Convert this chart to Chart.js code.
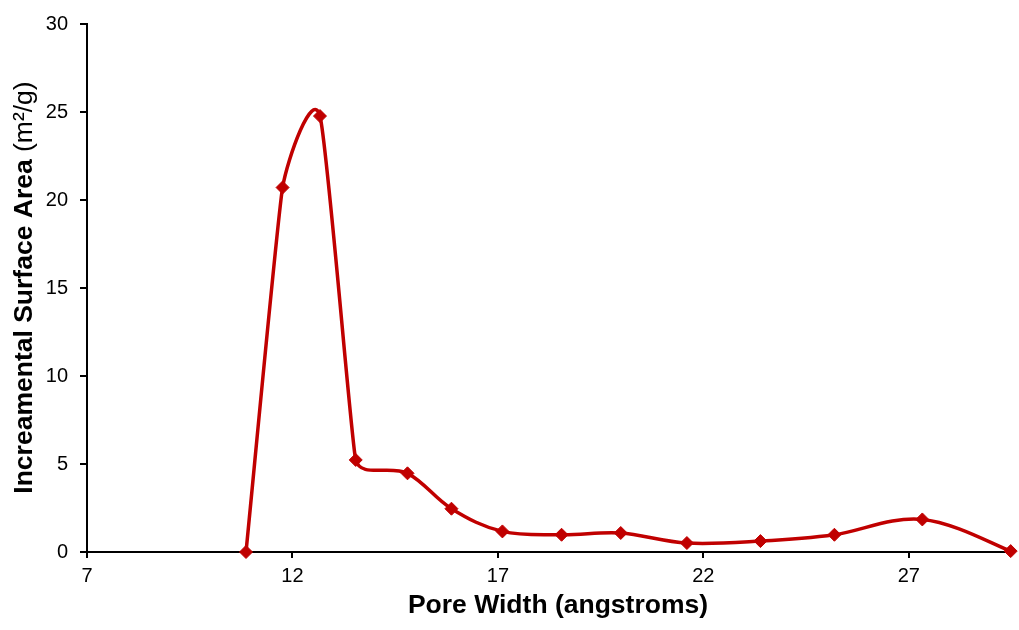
<!DOCTYPE html>
<html>
<head>
<meta charset="utf-8">
<script src="https://cdn.jsdelivr.net/npm/chart.js@4"></script>
<style>
  html, body { margin: 0; padding: 0; background: #ffffff; }
  #wrap { width: 1019px; height: 630px; position: relative; }
</style>
</head>
<body>
<div id="wrap"><canvas id="c" width="1019" height="630"></canvas></div>
<script>
// Data
const poreWidth = [10.87, 11.76, 12.67, 13.54, 14.80, 15.87, 17.11, 18.55, 19.99, 21.60, 23.39, 25.19, 27.33, 29.48];
const surfaceArea = [0.0, 20.71, 24.77, 5.23, 4.47, 2.46, 1.17, 0.98, 1.08, 0.51, 0.62, 0.98, 1.85, 0.05];
const xTickValues = [7, 12, 17, 22, 27];
const yTickValues = [0, 5, 10, 15, 20, 25, 30];

const xTitle = 'Pore Width (angstroms)';
const yTitleBold = 'Increamental Surface Area';
const yTitleNormal = ' (m\u00B2/g)';

const RED = '#C00000';
const FONT = "'Liberation Sans', Arial, sans-serif";
const TITLE_SIZE = 26.5;

// Excel-like smoothing: tangent from neighbours, control length tied to the shorter adjacent segment
const smoothPlugin = {
  id: 'excelSmooth',
  beforeDatasetDraw(chart, args) {
    const meta = chart.getDatasetMeta(args.index);
    const line = meta.dataset;
    if (!line) return;
    line.updateControlPoints(chart.chartArea, meta.iScale.axis);
    const pts = meta.data;
    const n = pts.length;
    const k = 0.36;
    for (let i = 0; i < n; i++) {
      const p = pts[i];
      const prev = pts[Math.max(0, i - 1)];
      const next = pts[Math.min(n - 1, i + 1)];
      let tx = next.x - prev.x, ty = next.y - prev.y;
      const tl = Math.hypot(tx, ty) || 1;
      tx /= tl; ty /= tl;
      const dPrev = Math.hypot(p.x - prev.x, p.y - prev.y);
      const dNext = Math.hypot(next.x - p.x, next.y - p.y);
      let len;
      if (i === 0) len = k * dNext * 0.5;
      else if (i === n - 1) len = k * dPrev * 0.5;
      else len = k * Math.min(dPrev, dNext);
      p.cp1x = p.x - tx * len; p.cp1y = p.y - ty * len;
      p.cp2x = p.x + tx * len; p.cp2y = p.y + ty * len;
    }
  }
};

const titlesPlugin = {
  id: 'titles',
  afterDraw(chart) {
    const ctx = chart.ctx;
    ctx.save();
    ctx.fillStyle = '#000';
    const boldFont = 'bold ' + TITLE_SIZE + 'px ' + FONT;
    const normFont = TITLE_SIZE + 'px ' + FONT;
    // x title
    ctx.font = boldFont;
    ctx.textAlign = 'center';
    ctx.textBaseline = 'alphabetic';
    ctx.fillText(xTitle, 558, 613);
    // y title (bold + normal part)
    ctx.font = boldFont;
    const wb = ctx.measureText(yTitleBold).width;
    ctx.font = normFont;
    const wn = ctx.measureText(yTitleNormal).width;
    const total = wb + wn;
    ctx.translate(31.5, 287.5);
    ctx.rotate(-Math.PI / 2);
    ctx.textAlign = 'left';
    ctx.font = boldFont;
    ctx.fillText(yTitleBold, -total / 2, 0);
    ctx.font = normFont;
    ctx.fillText(yTitleNormal, -total / 2 + wb, 0);
    ctx.restore();
  }
};

new Chart(document.getElementById('c'), {
  type: 'line',
  data: {
    datasets: [{
      data: poreWidth.map((x, i) => ({ x: x, y: surfaceArea[i] })),
      borderColor: RED,
      backgroundColor: RED,
      borderWidth: 3.5,
      pointStyle: 'rectRot',
      pointRadius: 6.5,
      pointHoverRadius: 6.5,
      pointBackgroundColor: RED,
      pointBorderColor: RED,
      pointBorderWidth: 1,
      tension: 0.4,
      fill: false,
      clip: false
    }]
  },
  options: {
    responsive: false,
    animation: false,
    devicePixelRatio: 1,
    layout: { padding: { top: 22, right: 7, left: 0, bottom: 0 } },
    plugins: {
      legend: { display: false },
      tooltip: { enabled: false }
    },
    scales: {
      x: {
        type: 'linear',
        min: 7,
        max: 29.5,
        afterBuildTicks(scale) { scale.ticks = xTickValues.map(v => ({ value: v })); },
        afterFit(scale) { scale.height = 78; },
        border: { display: true, color: '#000', width: 2 },
        grid: { display: true, drawOnChartArea: false, drawTicks: true, tickLength: 6, color: '#000', lineWidth: 2 },
        ticks: { color: '#000', font: { family: FONT, size: 20 }, padding: 6, maxRotation: 0, autoSkip: false },
        title: { display: false }
      },
      y: {
        type: 'linear',
        min: 0,
        max: 30,
        afterBuildTicks(scale) { scale.ticks = yTickValues.map(v => ({ value: v })); },
        afterFit(scale) { scale.width = 87; },
        border: { display: true, color: '#000', width: 2 },
        grid: { display: true, drawOnChartArea: false, drawTicks: true, tickLength: 7, color: '#000', lineWidth: 2 },
        ticks: { color: '#000', font: { family: FONT, size: 20 }, padding: 12, autoSkip: false }
      }
    }
  },
  plugins: [smoothPlugin, titlesPlugin]
});
</script>
</body>
</html>
